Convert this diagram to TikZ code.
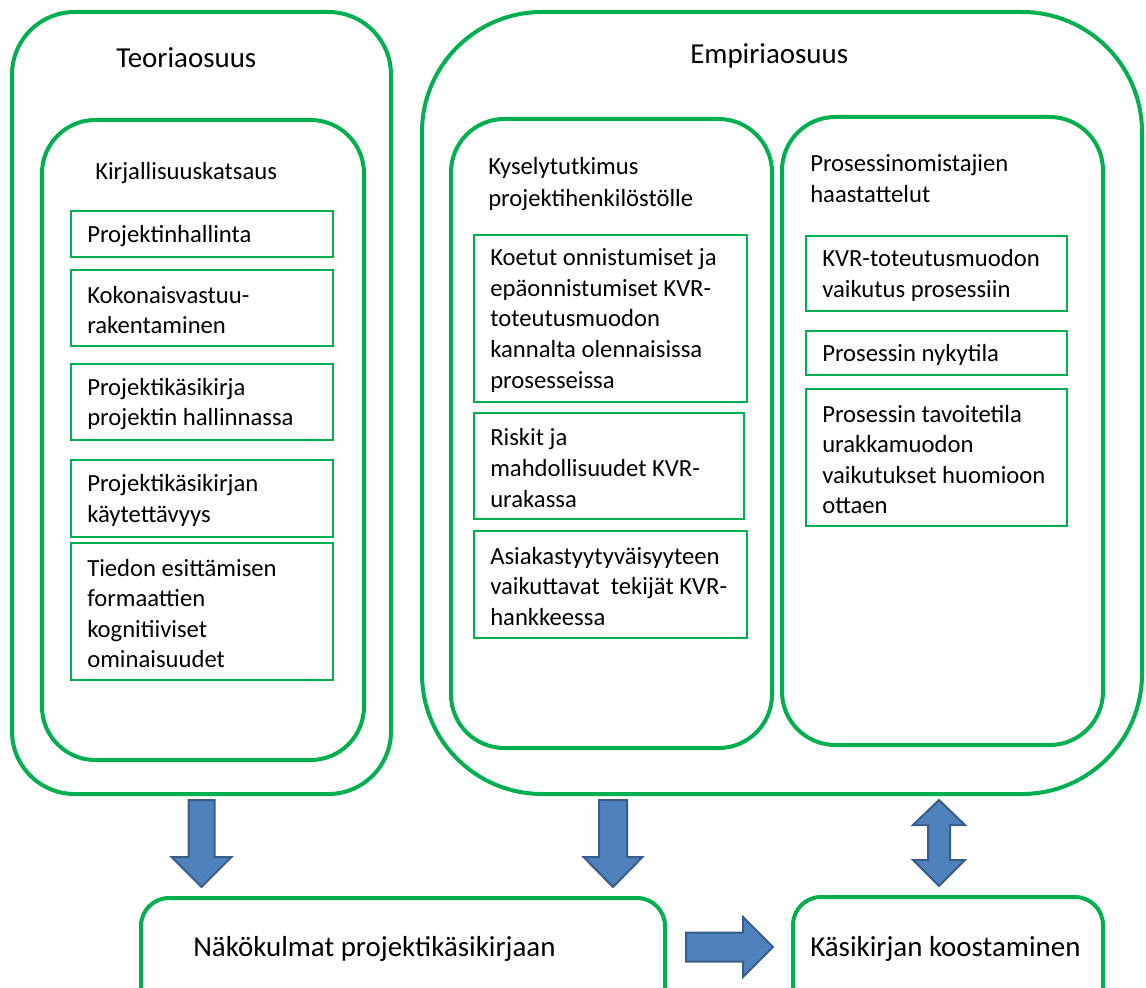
\documentclass[tikz,border=0pt]{standalone}
\usepackage{fontspec}
\setmainfont{Carlito}
\usetikzlibrary{calc}
\definecolor{boxgreen}{RGB}{0,176,80}
\definecolor{arrowfill}{RGB}{79,129,189}
\definecolor{arrowline}{RGB}{56,93,138}
\tikzset{
  container/.style={draw=boxgreen, line width=3pt, outer sep=0pt, inner sep=0pt, anchor=north west},
  itembox/.style={draw=boxgreen, line width=1.5pt, outer sep=0pt, inner sep=0pt, anchor=north west},
  itemtext/.style={anchor=west, align=left, inner sep=0pt, yshift=-1.5pt, font=\fontsize{18.5}{22.9}\selectfont},
  headtext/.style={anchor=base west, inner sep=0pt, font=\fontsize{21.7}{26}\selectfont},
  subtext/.style={anchor=base west, inner sep=0pt, align=left, font=\fontsize{18.5}{23.5}\selectfont},
  blockarrow/.style={fill=arrowfill, draw=arrowline, line width=1.5pt, line join=miter},
}
\begin{document}
\begin{tikzpicture}[x=0.75pt, y=-0.75pt]
\path[use as bounding box] (0,0) rectangle (1146,988);
\clip (0,0) rectangle (1146,988);

% theory part
\node[container, minimum width=284.25pt, minimum height=586.5pt, rounded corners=47pt] (teoria) at (12,12) {};
\node[headtext] (teoriat) at (116,68) {Teoriaosuus};
\node[container, minimum width=241.5pt, minimum height=480pt, rounded corners=40pt] (kirj) at (42,120) {};
\node[subtext] (kirjt) at (95,180) {Kirjallisuuskatsaus};

\node[itembox, minimum width=196.5pt, minimum height=34.5pt] (p1) at (71,211) {};
\node[itemtext] (p1t) at ([xshift=12pt]p1.west) {Projektinhallinta};
\node[itembox, minimum width=196.5pt, minimum height=57pt] (p2) at (71,270) {};
\node[itemtext] (p2t) at ([xshift=12pt]p2.west) {Kokonaisvastuu-\\rakentaminen};
\node[itembox, minimum width=196.5pt, minimum height=57pt] (p3) at (71,364) {};
\node[itemtext] (p3t) at ([xshift=12pt]p3.west) {Projektikäsikirja\\projektin hallinnassa};
\node[itembox, minimum width=196.5pt, minimum height=57.75pt] (p4) at (71,460) {};
\node[itemtext] (p4t) at ([xshift=12pt]p4.west) {Projektikäsikirjan\\käytettävyys};
\node[itembox, minimum width=196.5pt, minimum height=102.75pt] (p5) at (71,543) {};
\node[itemtext] (p5t) at ([xshift=12pt]p5.west) {Tiedon esittämisen\\formaattien\\kognitiiviset\\ominaisuudet};

% empirical part
\node[container, minimum width=540pt, minimum height=586.5pt, rounded corners=90pt] (empiria) at (422,12) {};
\node[headtext] (empiriat) at (690,64) {Empiriaosuus};

% two-line headings are placed by the baseline of their last line
\node[container, minimum width=240.75pt, minimum height=471.75pt, rounded corners=40pt] (kysely) at (451,119) {};
\node[subtext] (kyselyt) at (488,206) {Kyselytutkimus\\projektihenkilöstölle};
\node[itembox, minimum width=204.75pt, minimum height=125.25pt] (e1) at (474,235) {};
\node[itemtext] (e1t) at ([xshift=12pt]e1.west) {Koetut onnistumiset ja\\epäonnistumiset KVR-\\toteutusmuodon\\kannalta olennaisissa\\prosesseissa};
\node[itembox, minimum width=202.5pt, minimum height=79.5pt] (e2) at (474,413) {};
\node[itemtext] (e2t) at ([xshift=12pt]e2.west) {Riskit ja\\mahdollisuudet KVR-\\urakassa};
\node[itembox, minimum width=204.75pt, minimum height=80.25pt] (e3) at (474,531) {};
\node[itemtext] (e3t) at ([xshift=12pt]e3.west) {Asiakastyytyväisyyteen\\vaikuttavat\ \ tekijät KVR-\\hankkeessa};

\node[container, minimum width=240.75pt, minimum height=471pt, rounded corners=40pt] (prosess) at (782,117) {};
\node[subtext] (prosesst) at (810,203) {Prosessinomistajien\\haastattelut};
\node[itembox, minimum width=195.75pt, minimum height=56.25pt] (r1) at (806,236) {};
\node[itemtext] (r1t) at ([xshift=12pt]r1.west) {KVR-toteutusmuodon\\vaikutus prosessiin};
\node[itembox, minimum width=195.75pt, minimum height=33pt] (r2) at (806,331) {};
\node[itemtext] (r2t) at ([xshift=12pt]r2.west) {Prosessin nykytila};
\node[itembox, minimum width=195.75pt, minimum height=102.75pt] (r3) at (806,389) {};
\node[itemtext] (r3t) at ([xshift=12pt]r3.west) {Prosessin tavoitetila\\urakkamuodon\\vaikutukset huomioon\\ottaen};

% results
\node[container, minimum width=393pt, minimum height=120pt, rounded corners=21pt] (nako) at (141,898) {};
\node[headtext] (nakot) at (193,956) {Näkökulmat projektikäsikirjaan};
\node[container, minimum width=232.5pt, minimum height=120pt, rounded corners=21pt] (kasi) at (793,897) {};
\node[headtext] (kasit) at (810,956) {Käsikirjan koostaminen};

% block arrows
\coordinate (a1) at ($(teoria.south)+(0,6)$);
\coordinate (a2) at ($(kysely.south |- empiria.south)+(1.5,6)$);
\coordinate (a3) at ($(nako.north east)+(21,49)$);
\coordinate (a4) at ($(prosess.south |- empiria.south)+(-3.5,6)$);

\draw[blockarrow] (a1) ++(-13,0) -- ++(26,0) -- ++(0,57) -- ++(17,0) -- ++(-30,30) -- ++(-30,-30) -- ++(17,0) -- cycle;
\draw[blockarrow] (a2) ++(-14,0) -- ++(28,0) -- ++(0,57) -- ++(15.5,0) -- ++(-29.5,30) -- ++(-29.5,-30) -- ++(15.5,0) -- cycle;
\draw[blockarrow] (a3) ++(0,-14.5) -- ++(57,0) -- ++(0,-15.5) -- ++(30,30) -- ++(-30,30) -- ++(0,-15.5) -- ++(-57,0) -- cycle;
\draw[blockarrow] (a4) -- ++(26,25) -- ++(-15,0) -- ++(0,35) -- ++(15,0) -- ++(-26,26) -- ++(-26,-26) -- ++(15,0) -- ++(0,-35) -- ++(-15,0) -- cycle;
\end{tikzpicture}
\end{document}
